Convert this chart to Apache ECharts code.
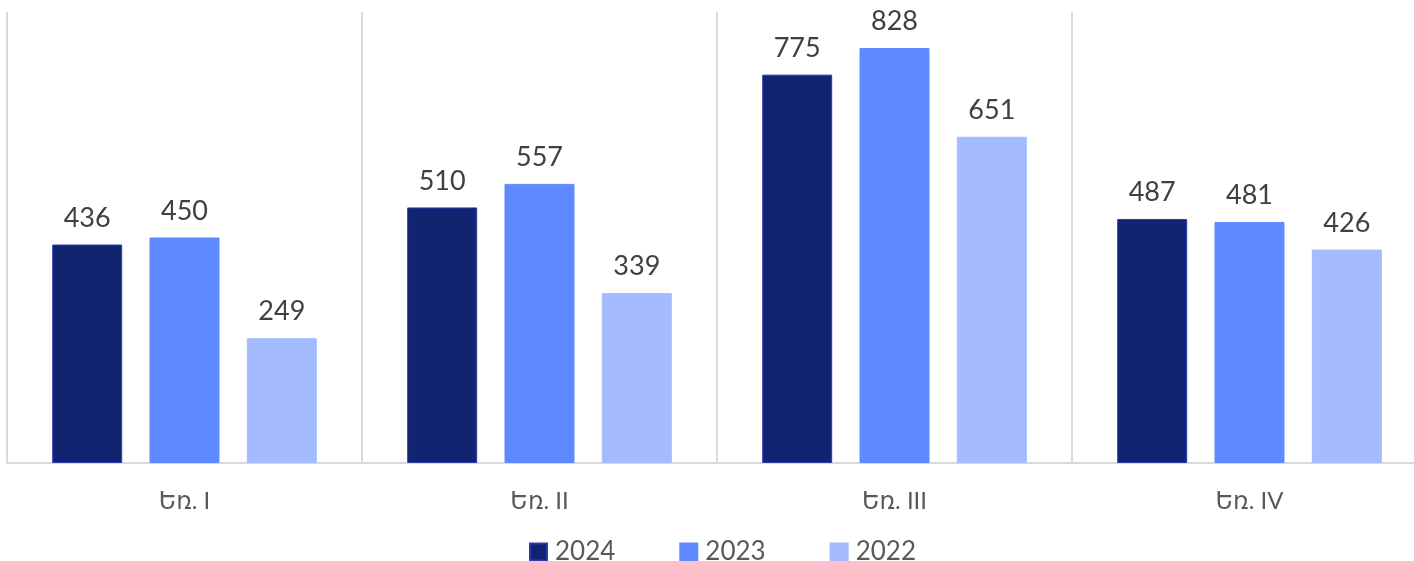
<!DOCTYPE html>
<html><head><meta charset="utf-8">
<script src="https://cdn.jsdelivr.net/npm/echarts@6/dist/echarts.min.js"></script>
<style>html,body{margin:0;padding:0;background:#fff;overflow:hidden;width:1414px;height:561px}#c{width:1434px;height:561px}</style>
</head><body><div id="c"></div>
<script>
const categories = ['Եռ. I', 'Եռ. II', 'Եռ. III', 'Եռ. IV'];
const seriesNames = ['2024', '2023', '2022'];
const v2024 = [436, 510, 775, 487];
const v2023 = [450, 557, 828, 481];
const v2022 = [249, 339, 651, 426];

const colors = ['#12236f', '#5f8aff', '#a4bcff'];
const borders = ['#2a3db0', '#5f8aff', '#a4bcff'];
const font = 'Lato, "DejaVu Sans", sans-serif';
const chart = echarts.init(document.getElementById('c'));
const data = [v2024, v2023, v2022];
chart.setOption({
  animation: false,
  grid: {left: 7, top: 12, right: 7, bottom: 98, containLabel: false},
  legend: {
    top: 534, left: 524, itemWidth: 17, itemHeight: 17, itemGap: 64,
    icon: 'rect',
    textStyle: {fontSize: 26, color: '#595959', fontFamily: font, padding: [0, 0, 0, 3]},
    data: seriesNames
  },
  xAxis: {
    type: 'category', data: categories,
    axisLine: {lineStyle: {color: '#d9d9d9', width: 2}},
    axisTick: {show: false},
    splitLine: {show: true, lineStyle: {color: '#d9d9d9', width: 2}},
    axisLabel: {fontSize: 24, color: '#595959', margin: 26, fontFamily: font}
  },
  yAxis: {type: 'value', min: 0, max: 900, show: false, splitLine: {show: false}},
  series: seriesNames.map((n, i) => ({
    name: n, type: 'bar', data: data[i], barWidth: 70, barGap: '39%',
    itemStyle: {color: colors[i], borderColor: borders[i], borderWidth: 1},
    label: {show: true, position: 'top', distance: 13, fontSize: 27, color: '#404040', fontFamily: font}
  }))
});
</script></body></html>
